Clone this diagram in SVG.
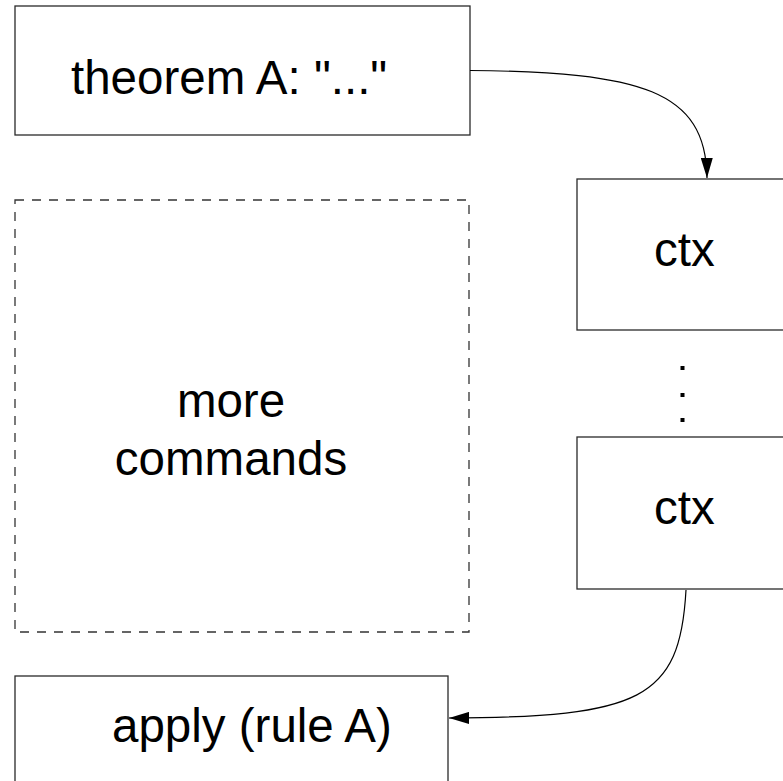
<svg xmlns="http://www.w3.org/2000/svg" width="783" height="781" viewBox="0 0 783 781">
<defs>
<style>
.box{fill:#fff;stroke:#2a2a2a;stroke-width:1.3}
.dash{fill:none;stroke:#333;stroke-width:1.3;stroke-dasharray:9,8}
.lbl{font-family:"Liberation Sans",Arial,sans-serif;font-size:47.5px;fill:#000}
.conn{fill:none;stroke:#000;stroke-width:1.2}
</style>
<marker id="arr" viewBox="0 0 20 12" refX="20" refY="6" markerWidth="20" markerHeight="12" markerUnits="userSpaceOnUse" orient="auto">
<path d="M0,0 L20,6 L0,12 Z" fill="#000"/>
</marker>
</defs>
<rect width="783" height="781" fill="#fff"/>
<g id="theorem">
<rect class="box" x="15" y="6" width="455" height="129"/>
<text class="lbl" x="71" y="94">theorem A: "..."</text>
</g>
<g id="ctx1">
<rect class="box" x="577" y="179" width="240" height="151"/>
<text class="lbl" x="654" y="266">ctx</text>
</g>
<g id="dots">
<rect x="680.5" y="366" width="4" height="4" fill="#000"/>
<rect x="680.5" y="393" width="4" height="4" fill="#000"/>
<rect x="680.5" y="418" width="4" height="4" fill="#000"/>
</g>
<g id="ctx2">
<rect class="box" x="577" y="437" width="240" height="152"/>
<text class="lbl" x="654" y="524">ctx</text>
</g>
<g id="more">
<rect class="dash" x="15" y="200" width="454" height="432"/>
<text class="lbl" x="231" y="417" text-anchor="middle">more</text>
<text class="lbl" x="231" y="475" text-anchor="middle">commands</text>
</g>
<g id="apply">
<rect class="box" x="15" y="676" width="433" height="140"/>
<text class="lbl" x="112" y="742">apply (rule A)</text>
</g>
<g id="connectors">
<path class="conn" d="M470,70.5 C640,72 706,90 707,178" marker-end="url(#arr)"/>
<path class="conn" d="M686,590 C680,700 640,717 449,718" marker-end="url(#arr)"/>
</g>
</svg>
